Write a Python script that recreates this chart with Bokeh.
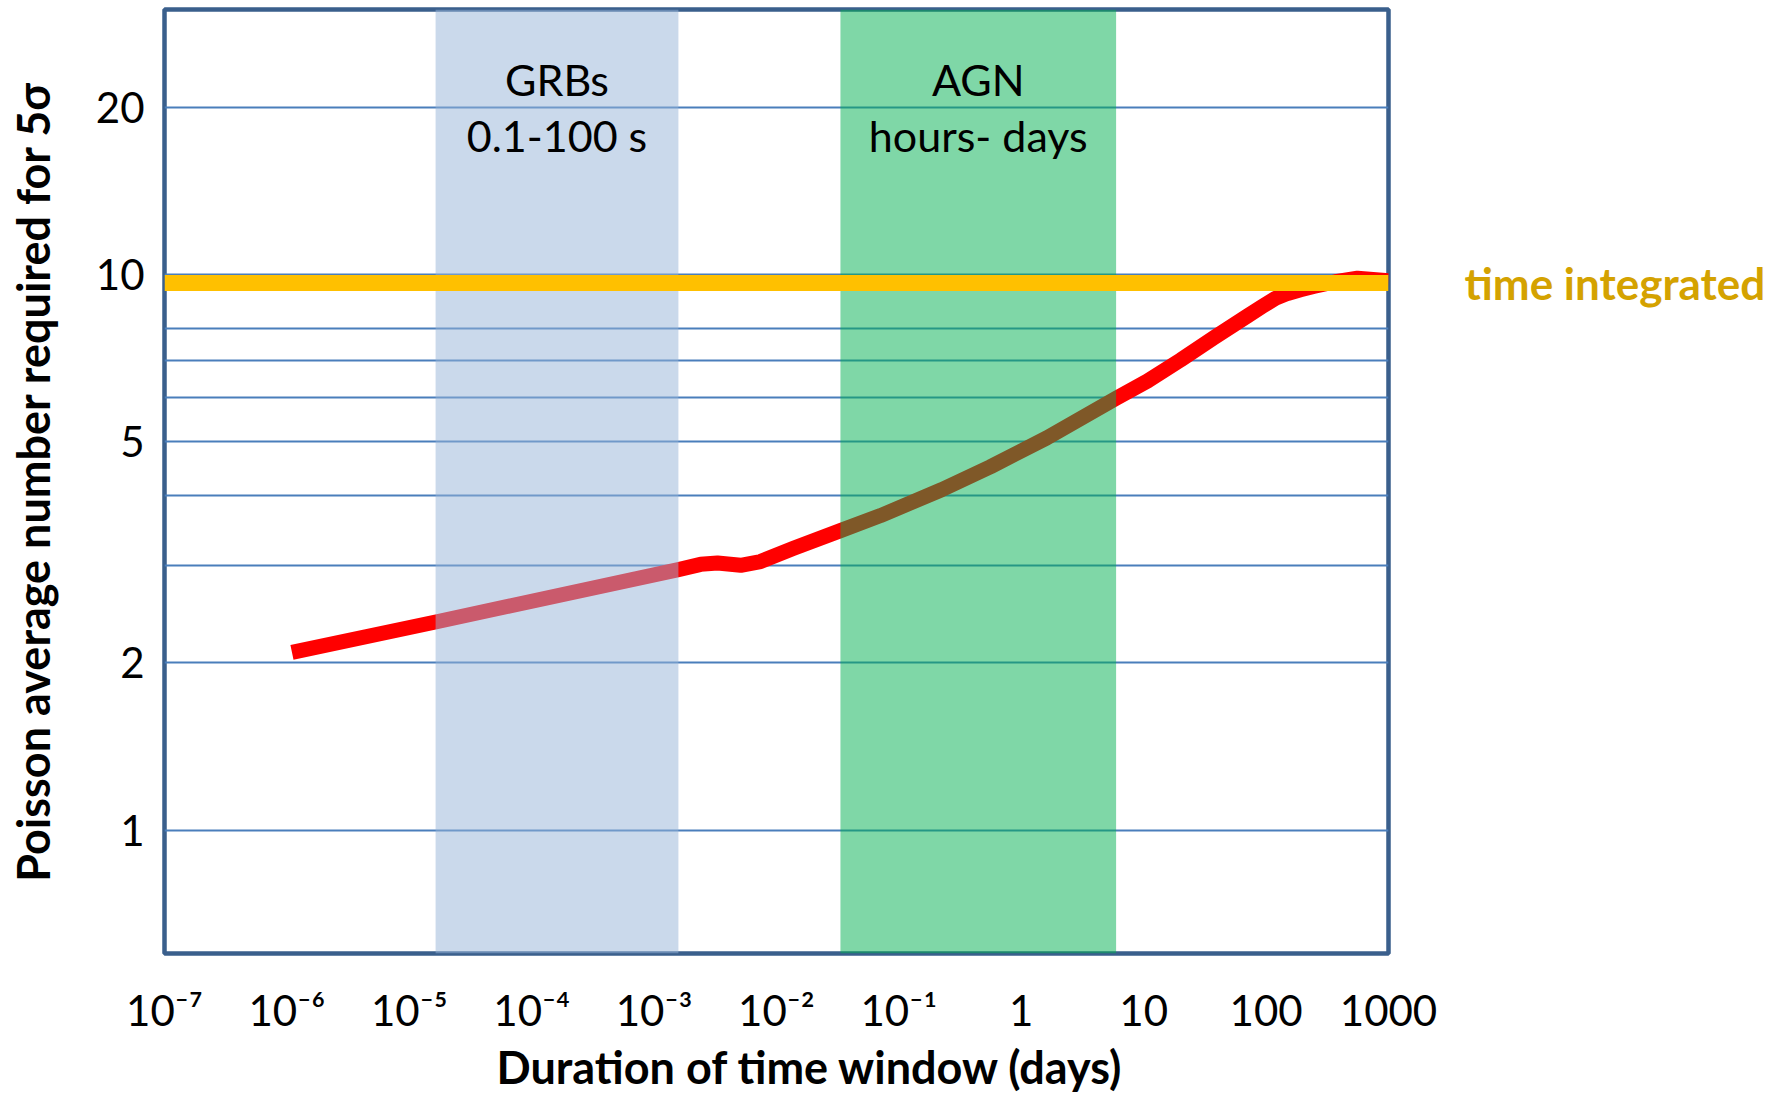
from bokeh.plotting import figure
from bokeh.models import FixedTicker, CustomJSTickFormatter, Label, Title, Span, LogAxis
from bokeh.embed import file_html
from bokeh.resources import INLINE

# ---- data ----
duration_days = [1.1e-6, 1.64e-5, 1.58e-3, 2.4e-3, 3.3e-3, 4.0e-3, 5.1e-3, 7.4e-3,
                 1.38e-2, 3.33e-2, 7.08e-2, 0.223, 0.56, 1.61, 5.96, 10.7, 20.0,
                 37.4, 70.1, 93.5, 119.0, 150.0, 191.0, 244.0, 369.0, 558.0, 1000.0]
poisson_mean_5sigma = [2.09, 2.37, 2.945, 3.01, 3.026, 3.015, 2.998, 3.045,
                       3.217, 3.461, 3.684, 4.10, 4.51, 5.08, 5.99, 6.43, 7.02,
                       7.70, 8.42, 8.77, 9.06, 9.25, 9.39, 9.52, 9.71, 9.85, 9.75]
time_integrated_level = 9.66
time_integrated_label = "time integrated"

grb_window = [1.64e-5, 1.58e-3]     # days
agn_window = [3.33e-2, 5.95]        # days
grb_text = ["GRBs", "0.1-100 s"]
agn_text = ["AGN", "hours- days"]

x_ticks = [1e-7, 1e-6, 1e-5, 1e-4, 1e-3, 1e-2, 1e-1, 1.0, 10.0, 100.0, 1000.0]
x_tick_labels = ["10\u207b\u2077", "10\u207b\u2076", "10\u207b\u2075", "10\u207b\u2074",
                 "10\u207b\u00b3", "10\u207b\u00b2", "10\u207b\u00b9", "1", "10", "100", "1000"]
y_ticks = [1, 2, 5, 10, 20]
y_tick_labels = ["1", "2", "5", "10", "20"]
y_gridlines = [1, 2, 3, 4, 5, 6, 7, 8, 10, 20]

X_MIN, X_MAX = 1e-7, 1e3
Y_MIN, Y_MAX = 0.6, 30.0

FONT = "Lato"

p = figure(width=1789, height=1093, x_axis_type="log", y_axis_type="log",
           x_range=(X_MIN, X_MAX), y_range=(Y_MIN, Y_MAX),
           output_backend="svg", toolbar_location=None,
           min_border_left=164, min_border_right=401,
           min_border_top=9, min_border_bottom=140)
p.background_fill_color = "white"
p.border_fill_color = "white"
p.outline_line_color = "#3A5F8C"
p.outline_line_width = 4.5

fmt_js = """
const i = vals.findIndex(v => Math.abs(Math.log10(v) - Math.log10(tick)) < 1e-6);
return i >= 0 ? labels[i] : "";
"""

# axes
xa = p.xaxis[0]
xa.ticker = FixedTicker(ticks=x_ticks)
xa.formatter = CustomJSTickFormatter(args=dict(vals=x_ticks, labels=x_tick_labels), code=fmt_js)
ya = p.yaxis[0]
ya.ticker = FixedTicker(ticks=y_ticks)
ya.formatter = CustomJSTickFormatter(args=dict(vals=y_ticks, labels=y_tick_labels), code=fmt_js)
for ax in (xa, ya):
    ax.axis_line_color = None
    ax.major_tick_line_color = None
    ax.minor_tick_line_color = None
    ax.major_tick_out = 0
    ax.major_label_text_font = FONT
    ax.major_label_text_font_size = "42px"
    ax.major_label_text_color = "black"
xa.major_label_standoff = 31
ya.major_label_standoff = 20

ya.axis_label = "Poisson average number required for 5\u03c3"
ya.axis_label_text_font = FONT
ya.axis_label_text_font_size = "45px"
ya.axis_label_text_font_style = "bold"
ya.axis_label_text_color = "black"
ya.axis_label_standoff = 33

# right-hand label for the time-integrated level
ra = LogAxis(ticker=FixedTicker(ticks=[time_integrated_level]),
             formatter=CustomJSTickFormatter(args=dict(label=time_integrated_label),
                                             code="return label;"))
ra.axis_line_color = None
ra.major_tick_line_color = None
ra.minor_tick_line_color = None
ra.major_tick_out = 0
ra.major_label_standoff = 76
ra.major_label_text_font = FONT
ra.major_label_text_font_size = "44px"
ra.major_label_text_font_style = "bold"
ra.major_label_text_color = "#D4A200"
p.add_layout(ra, "right")

xtitle = Title(text="Duration  of time window (days)", align="left", offset=332,
               text_font=FONT, text_font_size="45px", text_font_style="bold",
               text_color="black", standoff=0)
p.add_layout(xtitle, "below")

# grid
p.xgrid.visible = False
p.ygrid.ticker = FixedTicker(ticks=y_gridlines)
p.ygrid.grid_line_color = "#4A7EBB"
p.ygrid.grid_line_width = 2
p.ygrid.grid_line_alpha = 1.0

# curve (under the translucent bands)
p.line(duration_days, poisson_mean_5sigma, line_color="#FF0000", line_width=15,
       line_join="round", line_cap="butt")

# bands
p.quad(left=[grb_window[0]], right=[grb_window[1]], bottom=[Y_MIN], top=[Y_MAX],
       fill_color="#95B3D7", fill_alpha=0.5, line_color=None)
p.quad(left=[agn_window[0]], right=[agn_window[1]], bottom=[Y_MIN], top=[Y_MAX],
       fill_color="#00B050", fill_alpha=0.5, line_color=None)

# time-integrated level
p.add_layout(Span(location=time_integrated_level, dimension="width",
                  line_color="#FFC000", line_width=16))

# band texts
LINE1_Y, LINE2_Y = 21.1, 16.7
for window, lines in ((grb_window, grb_text), (agn_window, agn_text)):
    xc = (window[0] * window[1]) ** 0.5
    for txt, yy in zip(lines, (LINE1_Y, LINE2_Y)):
        p.add_layout(Label(x=xc, y=yy, y_offset=15, text=txt, text_align="center",
                           text_baseline="alphabetic", text_font=FONT,
                           text_font_size="43px", text_color="black"))

open("out.html", "w").write(file_html(p, INLINE))
